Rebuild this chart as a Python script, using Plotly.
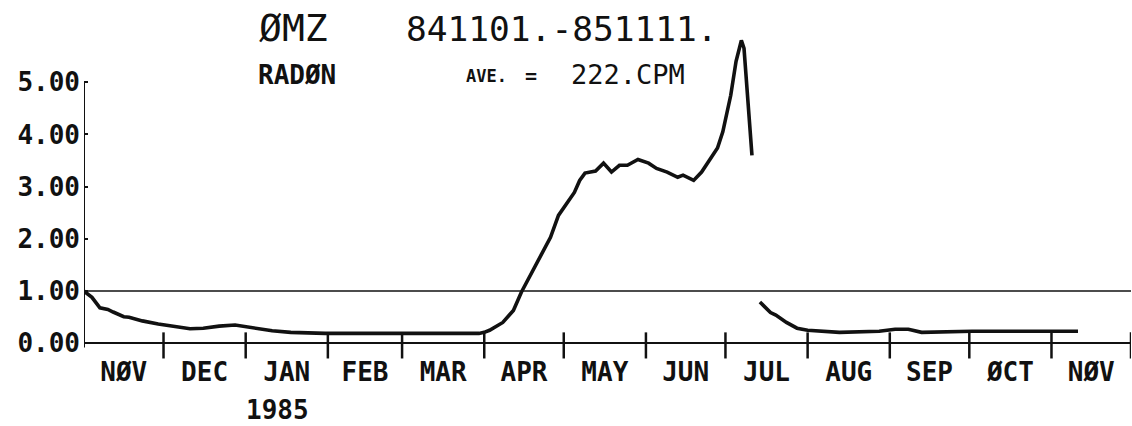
import pandas as pd
import plotly.graph_objects as go

# ---- data ----
dates_a = ["1984-11-01","1984-11-04","1984-11-07","1984-11-10","1984-11-12","1984-11-16","1984-11-18",
           "1984-11-23","1984-11-29","1984-12-06","1984-12-11","1984-12-16","1984-12-22","1984-12-28",
           "1985-01-01","1985-01-05","1985-01-11","1985-01-18","1985-01-31","1985-02-28","1985-03-30",
           "1985-04-01","1985-04-03","1985-04-08","1985-04-12","1985-04-15","1985-04-18","1985-04-22",
           "1985-04-26","1985-04-29","1985-05-02","1985-05-05","1985-05-07","1985-05-09","1985-05-13",
           "1985-05-16","1985-05-19","1985-05-22","1985-05-25","1985-05-29","1985-06-02","1985-06-05",
           "1985-06-09","1985-06-13","1985-06-15","1985-06-19","1985-06-22","1985-06-25","1985-06-28",
           "1985-06-30","1985-07-03","1985-07-05","1985-07-07","1985-07-08","1985-07-11"]
vals_a = [1.00,0.88,0.68,0.65,0.60,0.51,0.50,0.43,0.37,0.31,0.28,0.29,0.33,0.35,
          0.32,0.28,0.24,0.21,0.19,0.19,0.19,0.21,0.25,0.40,0.63,0.98,1.26,1.65,
          2.03,2.45,2.68,2.89,3.12,3.26,3.30,3.45,3.28,3.41,3.41,3.52,3.45,3.35,
          3.28,3.18,3.22,3.12,3.28,3.52,3.74,4.05,4.75,5.40,5.80,5.65,3.60]

dates_b = ["1985-07-14","1985-07-18","1985-07-20","1985-07-24","1985-07-28","1985-08-01",
           "1985-08-13","1985-08-28","1985-09-03","1985-09-08","1985-09-13","1985-10-02","1985-11-11"]
vals_b = [0.79,0.59,0.54,0.40,0.29,0.25,0.21,0.23,0.27,0.27,0.21,0.23,0.23]

month_labels = ["NØV","DEC","JAN","FEB","MAR","APR","MAY","JUN","JUL","AUG","SEP","ØCT","NØV"]
y_tickvals = [0, 1, 2, 3, 4, 5]
y_ticktext = ["0.00", "1.00", "2.00", "3.00", "4.00", "5.00"]
ref_level = 1.0

# ---- layout constants ----
W, H = 1132, 426
ML, MR, MT, MB = 84, 1, 30, 67
PW, PH = W - ML - MR, H - MT - MB
FONT = "DejaVu Sans Mono"
INK = "#111111"

def px(xp):
    return (xp - ML) / PW

def py(yp):
    return (H - MB - yp) / PH

month_starts = pd.date_range("1984-11-01", "1985-12-01", freq="MS")
mids = month_starts[:-1] + (month_starts[1:] - month_starts[:-1]) / 2

fig = go.Figure()

# month tick marks crossing the axis (skip the first, which is the y axis)
tx, ty = [], []
for m in month_starts[1:]:
    tx += [m, m, None]
    ty += [-0.29, 0.21, None]
fig.add_trace(go.Scatter(x=tx, y=ty, mode="lines", line=dict(color=INK, width=2.5),
                         hoverinfo="skip", showlegend=False))

# y axis line from 0 to top tick
fig.add_trace(go.Scatter(x=[month_starts[0], month_starts[0]], y=[-0.08, max(y_tickvals)],
                         mode="lines", line=dict(color=INK, width=2),
                         hoverinfo="skip", showlegend=False))

# data
for d, v in ((dates_a, vals_a), (dates_b, vals_b)):
    fig.add_trace(go.Scatter(x=d, y=v, mode="lines", line=dict(color=INK, width=3.6),
                             showlegend=False))

fig.add_shape(type="line", xref="paper", x0=0, x1=1, yref="y", y0=ref_level, y1=ref_level,
              line=dict(color=INK, width=1.5), layer="below")

ann = [
    dict(text="ØMZ", x=px(257), y=py(28), size=38, weight="normal"),
    dict(text="841101.-851111.", x=px(404), y=py(29), size=34.5, weight="normal"),
    dict(text="RADØN", x=px(256), y=py(75), size=26, weight="bold"),
    dict(text="AVE.", x=px(464), y=py(76), size=17, weight="bold"),
    dict(text="=", x=px(523), y=py(76), size=20, weight="bold"),
    dict(text="222.CPM", x=px(569), y=py(74), size=27, weight="normal"),
    dict(text="1985", x=px(244), y=py(410), size=26, weight="bold"),
]
for a in ann:
    fig.add_annotation(text=a["text"], x=a["x"], y=a["y"], xref="paper", yref="paper",
                       xanchor="left", yanchor="middle", showarrow=False,
                       font=dict(family=FONT, size=a["size"], color=INK, weight=a["weight"]))

fig.update_layout(
    width=W, height=H,
    margin=dict(l=ML, r=MR, t=MT, b=MB, autoexpand=False),
    paper_bgcolor="white", plot_bgcolor="white",
    showlegend=False,
    xaxis=dict(type="date", range=[month_starts[0], month_starts[-1]],
               tickvals=list(mids), ticktext=month_labels, ticks="",
               showgrid=False, zeroline=False, showline=False, automargin=False,
               ticklabelstandoff=-5,
               tickfont=dict(family=FONT, size=26, color=INK, weight="bold")),
    yaxis=dict(range=[-0.3, 6.0], tickvals=y_tickvals, ticktext=y_ticktext,
               ticks="inside", ticklen=4, tickwidth=2, tickcolor=INK,
               showgrid=False, showline=False, automargin=False,
               zeroline=True, zerolinecolor=INK, zerolinewidth=1.5,
               ticklabelstandoff=3,
               tickfont=dict(family=FONT, size=26, color=INK, weight="bold")),
)

fig.write_html("out.html", config={"displayModeBar": False},
               post_script="document.body.style.margin='0';")
